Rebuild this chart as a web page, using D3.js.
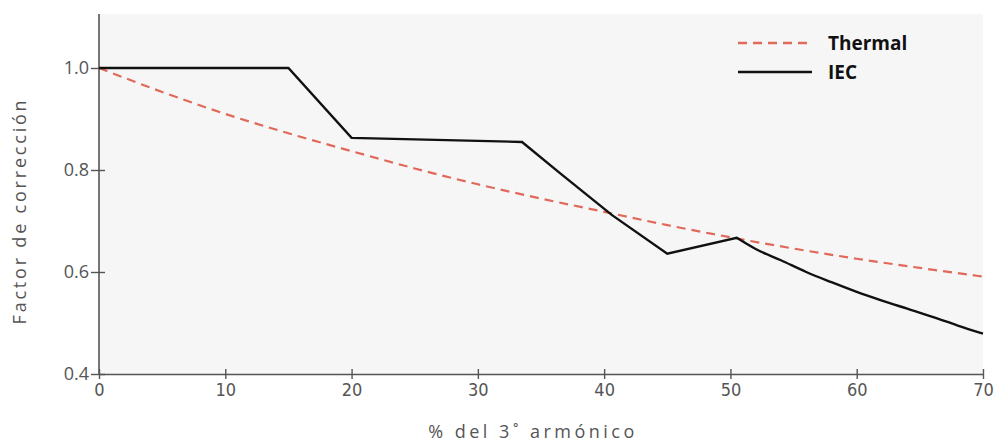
<!DOCTYPE html>
<html><head><meta charset="utf-8">
<script src="https://cdn.jsdelivr.net/npm/d3@7/dist/d3.min.js"></script>
<style>
html,body{margin:0;padding:0;background:#fff;}
svg{display:block;}
</style></head>
<body>
<svg id="chart" width="998" height="446"></svg>
<script>
// ---- data ----
const thermalX = [0, 5, 10, 15, 20, 25, 30, 35, 40, 45, 50, 55, 60, 65, 70];
const thermalY = [1.0, 0.953, 0.910, 0.872, 0.837, 0.803, 0.772, 0.744, 0.718, 0.692, 0.668, 0.646, 0.626, 0.608, 0.591];
const iecX = [0, 15, 20, 33.5, 36.5, 40.6, 45, 50.5, 52, 54, 56, 58, 60, 62, 64, 66, 68, 70];
const iecY = [1.0, 1.0, 0.863, 0.855, 0.794, 0.712, 0.636, 0.667, 0.645, 0.623, 0.600, 0.580, 0.561, 0.544, 0.528, 0.512, 0.495, 0.479];
const xTicks = [0, 10, 20, 30, 40, 50, 60, 70];
const yTicks = [0.4, 0.6, 0.8, 1.0];
const seriesNames = ["Thermal", "IEC"];
const xTitle = "% del 3˚ armónico";
const yTitle = "Factor de corrección";

const svg = d3.select("#chart");
const mLeft = 99, mRight = 983, mTop = 17, mBottom = 374;
const x = d3.scaleLinear().domain([0, 70]).range([mLeft, mRight]);
const y = d3.scaleLinear().domain([0.4, 1.1]).range([mBottom, mTop]);

// panel
svg.append("rect").attr("x", mLeft).attr("y", 14).attr("width", mRight - mLeft).attr("height", mBottom - 14)
  .attr("fill", "#f6f6f6");

// axes
const axisColor = "#555";
const xa = svg.append("g").attr("transform", `translate(0,${mBottom})`)
  .call(d3.axisBottom(x).tickValues(xTicks).tickFormat(d3.format("d")).tickSize(5).tickSizeOuter(0));
xa.selectAll(".tick line").attr("y1", -5).attr("y2", 5);
xa.selectAll("text").attr("dy", "0.71em").attr("y", 9)
  .style("font-family", "'DejaVu Sans', sans-serif").style("font-stretch", "condensed").style("font-size", "18px").attr("fill", "#555");

const ya = svg.append("g").attr("transform", `translate(${mLeft},0)`)
  .call(d3.axisLeft(y).tickValues(yTicks).tickFormat(d3.format(".1f")).tickSize(5).tickSizeOuter(0));
ya.select(".domain").attr("d", `M0,14V${mBottom}`);
ya.selectAll(".tick line").attr("x1", -8).attr("x2", 6);
ya.selectAll("text").attr("x", -10)
  .style("font-family", "'Open Sans', Lato, sans-serif").style("font-size", "18px").attr("fill", "#555");

[xa, ya].forEach(g => {
  g.selectAll(".domain").attr("stroke", axisColor).attr("stroke-width", 1.6);
  g.selectAll(".tick line").attr("stroke", axisColor).attr("stroke-width", 1.4);
});

// lines
const thermal = thermalX.map((v, i) => [v, thermalY[i]]);
const iec = iecX.map((v, i) => [v, iecY[i]]);
const thermalLine = d3.line().x(d => x(d[0])).y(d => y(d[1])).curve(d3.curveMonotoneX);
const iecHead = d3.line().x(d => x(d[0])).y(d => y(d[1]));
const iecTail = d3.line().x(d => x(d[0])).y(d => y(d[1])).curve(d3.curveMonotoneX);
const splitAt = iecX.indexOf(50.5);
const iecPath = iecHead(iec.slice(0, splitAt + 1)) + iecTail(iec.slice(splitAt)).replace(/^M/, "L");

svg.append("path").datum(thermal).attr("d", thermalLine)
  .attr("fill", "none").attr("stroke", "#e0695a").attr("stroke-width", 2.2)
  .attr("stroke-dasharray", "9,6");
svg.append("path").attr("d", iecPath)
  .attr("fill", "none").attr("stroke", "#111").attr("stroke-width", 2.4).attr("stroke-linejoin", "miter");

// legend
const lg = svg.append("g");
const lgItems = [
  {name: seriesNames[0], dash: "9,6", color: "#e0695a", y: 43},
  {name: seriesNames[1], dash: "none", color: "#111", y: 72}
];
lgItems.forEach(it => {
  lg.append("line").attr("x1", 738).attr("x2", 812).attr("y1", it.y).attr("y2", it.y)
    .attr("stroke", it.color).attr("stroke-width", 2.3).attr("stroke-dasharray", it.dash);
  lg.append("text").attr("x", 828).attr("y", it.y).attr("dy", "0.35em").text(it.name)
    .style("font-family", "'Open Sans', Lato, sans-serif").style("font-weight", "bold").style("font-size", "19px").attr("fill", "#111");
});

// titles
svg.append("text").attr("x", 533).attr("y", 438).attr("text-anchor", "middle").text(xTitle)
  .style("font-family", "'Open Sans', Lato, sans-serif").style("font-size", "18px").style("letter-spacing", "3.5px").attr("fill", "#555");
svg.append("text").attr("transform", "translate(26,211) rotate(-90)").attr("text-anchor", "middle").text(yTitle)
  .style("font-family", "'Open Sans', Lato, sans-serif").style("font-size", "18px").style("letter-spacing", "2.8px").attr("fill", "#555");
</script>
</body></html>
